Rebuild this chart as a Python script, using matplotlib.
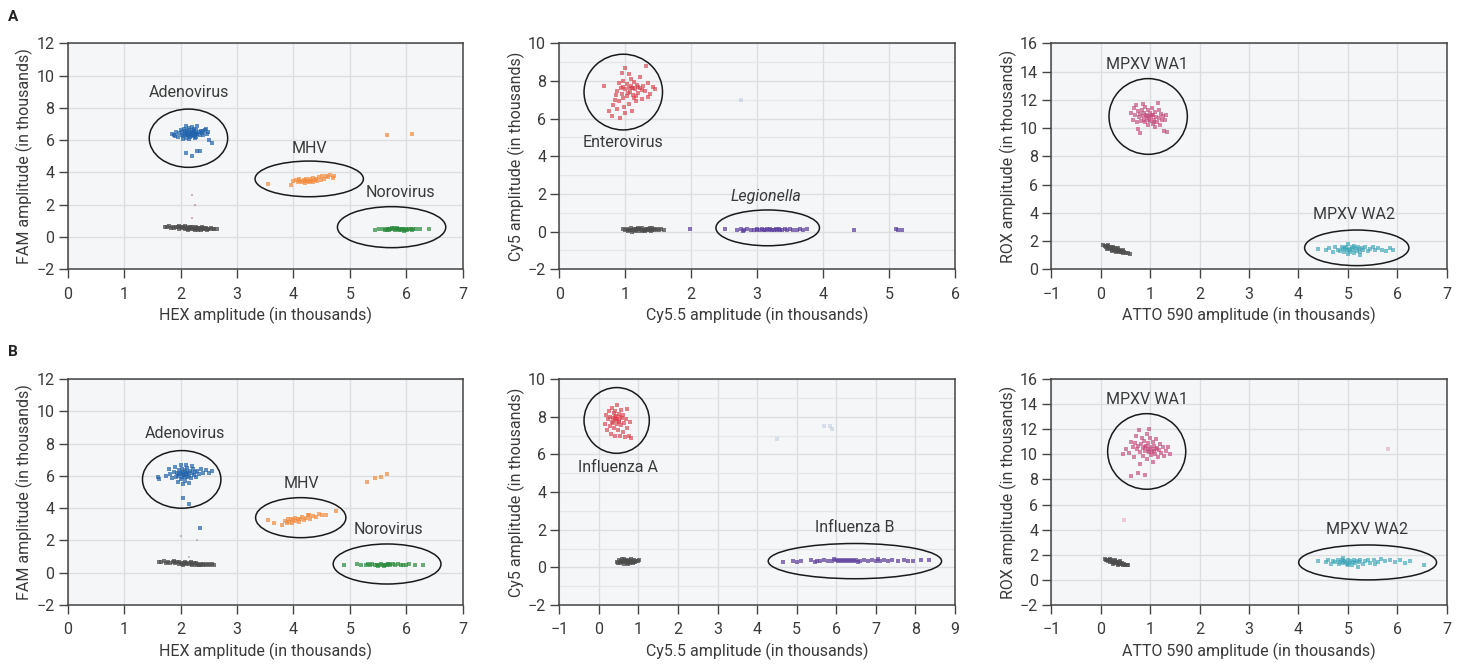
import numpy as np
import matplotlib
matplotlib.use("Agg")
import matplotlib.pyplot as plt
from matplotlib.patches import Ellipse
from matplotlib.ticker import MultipleLocator, FuncFormatter

plt.rcParams['font.family'] = ['Roboto', 'DejaVu Sans']

# ---------------- DATA (amplitudes in thousands) ----------------
# Row A, panel 1: HEX (x) vs FAM (y)
A1_adeno = [(1.88,6.35),(1.92,6.50),(1.95,6.20),(1.98,6.45),(2.00,6.60),(2.02,6.30),(2.03,6.50),(2.05,6.25),(2.06,6.70),(2.07,6.40),(2.08,6.55),(2.09,6.15),(2.10,6.45),(2.11,6.60),(2.12,6.30),(2.13,6.50),(2.14,6.35),(2.15,6.75),(2.16,6.20),(2.17,6.45),(2.18,6.60),(2.19,6.30),(2.20,6.50),(2.21,6.40),(2.22,6.25),(2.23,6.55),(2.24,6.70),(2.25,6.35),(2.26,6.45),(2.27,6.20),(2.28,6.60),(2.30,6.40),(2.32,6.50),(2.34,6.30),(2.36,6.55),(2.38,6.45),(2.40,6.35),(2.43,6.60),(2.46,6.40),(2.48,6.50),(2.05,6.10),(2.10,6.85),(2.15,6.05),(2.20,6.80),(2.25,6.15),(2.30,6.85),(2.12,6.40),(2.18,6.30),(2.22,6.50),(2.28,6.40),(2.10,5.20),(2.20,5.00),(2.30,5.35),(2.35,5.35),(2.55,5.85),(2.50,6.00),(1.85,6.40),(1.90,6.25),(2.45,6.70),(2.40,6.55)]
A1_mhv = [(3.55,3.30),(3.95,3.20),(4.00,3.45),(4.05,3.55),(4.08,3.40),(4.10,3.60),(4.12,3.50),(4.15,3.38),(4.18,3.55),(4.20,3.45),(4.22,3.62),(4.25,3.50),(4.28,3.40),(4.30,3.58),(4.32,3.48),(4.35,3.65),(4.38,3.52),(4.40,3.60),(4.42,3.45),(4.45,3.70),(4.48,3.55),(4.50,3.75),(4.55,3.62),(4.58,3.80),(4.62,3.70),(4.65,3.85),(4.70,3.65),(4.72,3.78),(4.20,3.35),(4.35,3.42),(5.65,6.30),(6.10,6.40)]
A1_noro = [(5.45,0.45),(5.52,0.48),(5.58,0.50),(5.62,0.46),(5.65,0.52),(5.68,0.48),(5.70,0.44),(5.72,0.50),(5.75,0.47),(5.78,0.53),(5.80,0.45),(5.82,0.50),(5.85,0.48),(5.88,0.52),(5.90,0.44),(5.92,0.49),(5.95,0.51),(5.98,0.46),(6.00,0.50),(6.02,0.43),(6.05,0.49),(6.08,0.52),(6.12,0.47),(6.18,0.50),(6.25,0.48),(6.40,0.50),(5.66,0.42),(5.84,0.55),(5.96,0.40),(6.10,0.45),(5.74,0.56),(5.88,0.46)]
A1_neg = [(1.72,0.63),(1.76,0.60),(1.80,0.66),(1.83,0.58),(1.86,0.62),(1.89,0.56),(1.92,0.64),(1.95,0.59),(1.97,0.52),(2.00,0.61),(2.02,0.55),(2.05,0.63),(2.07,0.50),(2.09,0.58),(2.11,0.53),(2.13,0.62),(2.15,0.48),(2.17,0.57),(2.19,0.52),(2.21,0.60),(2.23,0.47),(2.25,0.55),(2.27,0.51),(2.29,0.58),(2.31,0.46),(2.33,0.54),(2.35,0.50),(2.37,0.57),(2.39,0.47),(2.41,0.53),(2.43,0.49),(2.45,0.56),(2.47,0.46),(2.49,0.52),(2.51,0.48),(2.54,0.54),(2.57,0.47),(2.60,0.51),(2.64,0.49),(1.98,0.66),(2.08,0.66),(2.18,0.64),(2.28,0.62),(2.38,0.60),(2.14,0.44),(2.26,0.43),(2.36,0.44)]
A1_stray = [(2.20,2.60),(2.25,2.00),(2.20,1.15)]

# Row A, panel 2: Cy5.5 (x) vs Cy5 (y)
A2_entero = [(0.68,7.75),(0.75,6.40),(0.80,6.15),(0.85,7.00),(0.88,7.45),(0.90,6.95),(0.90,7.90),(0.92,6.05),(0.95,7.30),(0.95,8.40),(0.97,7.70),(0.98,6.60),(1.00,7.55),(1.00,8.70),(1.02,7.20),(1.03,7.85),(1.05,7.60),(1.06,6.80),(1.07,7.40),(1.08,8.10),(1.10,7.65),(1.10,6.40),(1.12,7.25),(1.13,7.95),(1.15,7.55),(1.16,6.95),(1.18,7.80),(1.20,7.35),(1.22,8.20),(1.23,7.60),(1.25,7.05),(1.27,7.75),(1.30,7.45),(1.32,8.80),(1.35,7.90),(1.38,7.30),(1.42,7.70),(1.45,7.55),(0.93,7.60),(0.97,7.10),(1.04,7.35),(1.08,7.75),(1.12,7.60),(1.17,7.20),(1.20,7.70),(0.86,7.25),(0.82,6.75),(1.00,6.30),(1.06,8.35),(0.96,8.00),(1.14,7.10),(1.26,7.50),(1.35,7.15),(0.88,6.50)]
A2_legio = [(2.52,0.12),(2.70,0.10),(2.75,0.12),(2.80,0.08),(2.85,0.13),(2.90,0.10),(2.95,0.07),(3.00,0.11),(3.05,0.09),(3.08,0.14),(3.10,0.10),(3.12,0.07),(3.15,0.12),(3.18,0.09),(3.20,0.13),(3.22,0.10),(3.25,0.08),(3.28,0.12),(3.30,0.10),(3.33,0.14),(3.35,0.09),(3.38,0.11),(3.42,0.13),(3.45,0.10),(3.50,0.12),(3.55,0.09),(3.60,0.11),(3.65,0.13),(3.70,0.10),(3.75,0.12),(2.78,0.04),(3.00,0.15),(1.98,0.12),(4.47,0.10),(5.10,0.12),(5.14,0.08),(5.20,0.10)]
A2_neg = [(0.96,0.12),(0.99,0.08),(1.02,0.15),(1.04,0.05),(1.07,0.11),(1.09,0.18),(1.11,0.07),(1.13,0.13),(1.15,0.03),(1.17,0.10),(1.19,0.16),(1.21,0.06),(1.23,0.12),(1.25,0.19),(1.27,0.04),(1.29,0.11),(1.31,0.15),(1.33,0.07),(1.35,0.12),(1.37,0.17),(1.39,0.05),(1.41,0.10),(1.43,0.14),(1.45,0.08),(1.48,0.12),(1.51,0.09),(1.54,0.13),(1.58,0.10),(1.10,0.00),(1.20,0.20),(1.30,0.01),(1.40,0.19),(1.16,0.14),(1.26,0.08),(1.36,0.09),(1.05,0.10)]
A2_faint = [(2.75,7.0)]

# Row A, panel 3: ATTO 590 (x) vs ROX (y)
A3_wa1 = [(0.62,11.10),(0.65,10.60),(0.68,11.40),(0.70,10.90),(0.72,11.60),(0.74,10.40),(0.75,11.20),(0.78,10.75),(0.80,11.00),(0.80,9.65),(0.82,10.50),(0.84,11.30),(0.85,10.85),(0.87,10.60),(0.88,11.10),(0.90,10.40),(0.90,11.50),(0.92,10.95),(0.94,10.70),(0.95,11.25),(0.96,10.20),(0.98,10.85),(1.00,11.05),(1.00,10.50),(1.02,10.75),(1.04,11.40),(1.05,10.30),(1.06,10.95),(1.08,10.60),(1.10,11.15),(1.10,10.10),(1.12,10.80),(1.14,10.45),(1.15,11.80),(1.17,10.70),(1.20,10.25),(1.22,11.00),(1.24,10.55),(1.26,10.85),(1.28,9.80),(1.30,10.60),(1.33,10.95),(1.35,9.70),(0.86,11.70),(0.97,10.60),(1.03,10.90),(0.93,10.85),(1.07,10.45),(0.76,9.95),(1.18,11.30)]
A3_wa2 = [(4.40,1.45),(4.55,1.35),(4.62,1.50),(4.70,1.25),(4.75,1.55),(4.80,1.40),(4.85,1.30),(4.88,1.60),(4.90,1.45),(4.93,1.20),(4.95,1.50),(4.98,1.35),(5.00,1.80),(5.02,1.40),(5.05,1.25),(5.08,1.55),(5.10,1.38),(5.12,1.15),(5.15,1.48),(5.18,1.30),(5.20,1.60),(5.22,1.42),(5.25,1.20),(5.28,1.50),(5.30,1.35),(5.35,1.55),(5.40,1.28),(5.45,1.45),(5.50,1.60),(5.55,1.35),(5.60,1.50),(5.70,1.40),(5.78,1.30),(5.85,1.50),(5.92,1.35),(5.00,1.05),(5.25,1.00),(4.97,1.60),(5.13,1.62),(5.05,1.45)]
A3_neg = [(0.05,1.70),(0.08,1.62),(0.10,1.55),(0.12,1.66),(0.14,1.50),(0.16,1.60),(0.18,1.45),(0.20,1.56),(0.22,1.40),(0.24,1.52),(0.26,1.36),(0.28,1.48),(0.30,1.32),(0.32,1.43),(0.34,1.28),(0.36,1.38),(0.38,1.25),(0.40,1.33),(0.42,1.20),(0.44,1.28),(0.46,1.17),(0.48,1.22),(0.52,1.14),(0.56,1.12),(0.60,1.05),(0.15,1.72),(0.25,1.60),(0.35,1.48),(0.45,1.36),(0.22,1.30),(0.30,1.22),(0.12,1.42)]

# Row B, panel 1: HEX (x) vs FAM (y)
B1_adeno = [(1.60,5.90),(1.62,5.80),(1.75,6.00),(1.80,6.40),(1.82,6.10),(1.85,5.85),(1.88,6.25),(1.90,6.55),(1.92,5.95),(1.94,6.20),(1.96,6.00),(1.98,6.35),(2.00,5.80),(2.00,6.15),(2.02,6.45),(2.03,5.95),(2.05,6.25),(2.06,6.05),(2.07,5.70),(2.08,6.35),(2.10,6.10),(2.11,5.90),(2.12,6.50),(2.14,6.20),(2.15,6.00),(2.17,6.30),(2.18,5.85),(2.20,6.15),(2.22,6.40),(2.24,6.05),(2.26,6.25),(2.28,5.95),(2.30,6.30),(2.33,6.10),(2.36,6.45),(2.40,6.20),(2.45,6.35),(2.50,6.15),(2.55,6.30),(1.95,5.60),(2.05,5.50),(2.15,5.55),(2.00,6.65),(2.10,6.70),(2.20,6.60),(2.05,4.60),(2.15,4.25),(2.35,2.75),(2.04,6.10),(2.08,5.95),(2.12,6.25),(1.98,6.10)]
B1_mhv = [(3.55,3.25),(3.65,3.05),(3.80,2.95),(3.85,3.20),(3.90,3.35),(3.92,3.15),(3.95,3.30),(3.98,3.10),(4.00,3.25),(4.02,3.40),(4.05,3.20),(4.08,3.35),(4.10,3.15),(4.12,3.30),(4.15,3.45),(4.18,3.25),(4.22,3.40),(4.25,3.55),(4.30,3.35),(4.35,3.50),(4.40,3.45),(4.45,3.65),(4.50,3.55),(4.58,3.60),(4.75,3.85),(3.88,3.05),(4.28,3.60),(5.30,5.60),(5.45,5.85),(5.55,5.95),(5.65,6.10)]
B1_noro = [(4.90,0.50),(5.12,0.55),(5.20,0.50),(5.28,0.46),(5.32,0.52),(5.36,0.48),(5.40,0.54),(5.44,0.45),(5.48,0.50),(5.52,0.47),(5.55,0.53),(5.58,0.45),(5.62,0.50),(5.65,0.48),(5.68,0.52),(5.72,0.46),(5.76,0.51),(5.80,0.48),(5.85,0.53),(5.90,0.45),(5.95,0.50),(6.00,0.48),(6.05,0.52),(6.15,0.47),(6.30,0.50),(5.50,0.42),(5.70,0.57),(5.60,0.40)]
B1_neg = [(1.62,0.68),(1.66,0.64),(1.70,0.70),(1.74,0.62),(1.78,0.67),(1.82,0.60),(1.86,0.66),(1.90,0.58),(1.94,0.64),(1.97,0.56),(2.00,0.62),(2.03,0.55),(2.06,0.61),(2.09,0.53),(2.12,0.60),(2.15,0.52),(2.18,0.59),(2.21,0.51),(2.24,0.58),(2.27,0.50),(2.30,0.57),(2.33,0.50),(2.36,0.56),(2.39,0.49),(2.42,0.55),(2.45,0.50),(2.48,0.54),(2.52,0.49),(2.56,0.53),(2.60,0.50),(1.88,0.70),(1.98,0.69),(2.08,0.67),(2.18,0.65),(2.28,0.63),(2.05,0.48),(2.20,0.46),(2.35,0.45)]
B1_stray = [(2.00,2.30),(2.30,2.05),(2.15,0.95)]

# Row B, panel 2: Cy5.5 (x) vs Cy5 (y)
B2_fluA = [(0.15,7.60),(0.18,8.10),(0.20,7.30),(0.22,7.85),(0.25,8.30),(0.27,7.50),(0.28,8.00),(0.30,7.10),(0.32,7.70),(0.34,8.45),(0.35,7.95),(0.37,7.40),(0.38,8.20),(0.40,7.80),(0.42,7.00),(0.43,8.05),(0.45,7.60),(0.46,8.60),(0.47,7.90),(0.48,7.30),(0.50,8.15),(0.52,7.75),(0.53,6.95),(0.55,8.35),(0.56,7.55),(0.58,7.95),(0.60,7.20),(0.62,8.10),(0.64,7.65),(0.65,6.90),(0.68,7.85),(0.70,8.40),(0.72,7.40),(0.75,7.00),(0.78,7.70),(0.80,6.85),(0.44,7.85),(0.40,8.00),(0.50,7.70),(0.36,7.65),(0.54,8.00),(0.42,8.30)]
B2_fluB = [(4.65,0.30),(4.90,0.32),(5.00,0.30),(5.10,0.35),(5.35,0.38),(5.45,0.28),(5.50,0.35),(5.60,0.33),(5.70,0.38),(5.80,0.35),(5.90,0.32),(6.00,0.38),(6.05,0.34),(6.10,0.40),(6.15,0.33),(6.20,0.37),(6.25,0.35),(6.30,0.39),(6.35,0.33),(6.40,0.37),(6.45,0.34),(6.50,0.38),(6.60,0.35),(6.70,0.37),(6.80,0.33),(6.90,0.38),(7.00,0.36),(7.10,0.34),(7.20,0.38),(7.30,0.35),(7.40,0.37),(7.55,0.34),(7.70,0.38),(7.80,0.35),(7.95,0.36),(8.15,0.38),(8.35,0.37),(5.95,0.45),(6.55,0.30),(7.05,0.42)]
B2_neg = [(0.45,0.30),(0.48,0.25),(0.50,0.38),(0.53,0.22),(0.55,0.33),(0.58,0.42),(0.60,0.27),(0.62,0.36),(0.64,0.20),(0.66,0.31),(0.68,0.40),(0.70,0.24),(0.72,0.34),(0.74,0.28),(0.76,0.39),(0.78,0.22),(0.80,0.32),(0.82,0.43),(0.84,0.26),(0.86,0.35),(0.88,0.30),(0.90,0.40),(0.92,0.27),(0.95,0.36),(0.98,0.31),(1.02,0.38),(0.57,0.30),(0.67,0.35),(0.77,0.30),(0.87,0.24),(0.63,0.45),(0.73,0.18)]
B2_faint = [(4.5,6.8),(5.7,7.5),(5.85,7.5),(5.9,7.35)]

# Row B, panel 3: ATTO 590 (x) vs ROX (y)
B3_wa1 = [(0.45,10.00),(0.52,10.40),(0.58,10.10),(0.62,11.00),(0.65,10.60),(0.68,9.80),(0.70,10.90),(0.72,11.50),(0.74,10.40),(0.76,10.70),(0.78,11.90),(0.80,10.20),(0.82,10.80),(0.84,11.30),(0.85,9.90),(0.86,10.50),(0.88,11.10),(0.90,10.30),(0.91,10.70),(0.93,9.60),(0.94,11.60),(0.95,10.45),(0.96,10.90),(0.98,10.15),(1.00,10.60),(1.00,11.30),(1.02,9.95),(1.04,10.40),(1.05,11.00),(1.07,10.25),(1.08,10.70),(1.10,10.05),(1.12,11.20),(1.14,10.50),(1.16,9.80),(1.18,10.35),(1.20,10.85),(1.22,10.10),(1.25,10.55),(1.28,9.90),(1.32,10.30),(1.36,10.60),(1.40,10.00),(0.62,8.30),(0.75,8.50),(0.90,8.35),(0.80,9.20),(1.05,9.40),(0.97,10.30),(1.03,10.20),(0.89,10.60),(1.11,10.45),(0.98,12.00)]
B3_wa2 = [(4.40,1.50),(4.55,1.40),(4.60,1.60),(4.65,1.30),(4.70,1.50),(4.75,1.40),(4.80,1.55),(4.82,1.25),(4.85,1.45),(4.88,1.60),(4.90,1.35),(4.92,1.50),(4.95,1.42),(4.98,1.28),(5.00,1.55),(5.02,1.38),(5.05,1.48),(5.08,1.20),(5.10,1.42),(5.12,1.60),(5.15,1.35),(5.18,1.50),(5.20,1.05),(5.22,1.40),(5.25,1.55),(5.30,1.30),(5.35,1.50),(5.40,1.62),(5.45,1.38),(5.52,1.55),(5.60,1.45),(5.68,1.70),(5.75,1.50),(5.85,1.60),(5.95,1.40),(6.05,1.55),(6.15,1.35),(6.25,1.50),(6.55,1.20),(5.00,1.20),(4.90,1.75),(5.55,1.30)]
B3_neg = [(0.08,1.65),(0.10,1.55),(0.12,1.62),(0.14,1.50),(0.16,1.60),(0.18,1.46),(0.20,1.56),(0.22,1.42),(0.24,1.52),(0.26,1.38),(0.28,1.48),(0.30,1.35),(0.32,1.44),(0.34,1.30),(0.36,1.40),(0.38,1.27),(0.40,1.36),(0.42,1.24),(0.44,1.32),(0.46,1.20),(0.48,1.28),(0.50,1.18),(0.53,1.22),(0.56,1.15),(0.18,1.70),(0.28,1.60),(0.38,1.50),(0.25,1.30),(0.35,1.20)]
B3_faint = [(0.48,4.8),(5.82,10.4)]

# Axis labels
XLABELS = ["HEX amplitude (in thousands)", "Cy5.5 amplitude (in thousands)", "ATTO 590 amplitude (in thousands)"]
YLABELS = ["FAM amplitude (in thousands)", "Cy5 amplitude (in thousands)", "ROX amplitude (in thousands)"]

# Colors
C_BLUE = "#2163ab"
C_ORANGE = "#f28b3c"
C_GREEN = "#2a8a3c"
C_GRAY = "#4d4d4d"
C_RED = "#d8404c"
C_PURPLE = "#5b3c9c"
C_PINK = "#c44b7d"
C_TEAL = "#3aa5b8"
TXT = "#3a3a3a"

fig = plt.figure(figsize=(14.61, 6.65), dpi=100)
W, H = 1461.0, 665.0

def make_ax(l, r, t, b):
    return fig.add_axes([l / W, (H - b) / H, (r - l) / W, (b - t) / H])

fmt = FuncFormatter(lambda v, p: f"{int(round(v))}".replace("-", "\u2212"))

def style(ax, xlim, ylim, xstep, ystep, xlabel, ylabel, yminor=None):
    ax.set_facecolor("#f5f6f7")
    ax.set_xlim(*xlim)
    ax.set_ylim(*ylim)
    ax.xaxis.set_major_locator(MultipleLocator(xstep))
    ax.yaxis.set_major_locator(MultipleLocator(ystep))
    if yminor:
        ax.yaxis.set_minor_locator(MultipleLocator(yminor))
        ax.grid(True, which="minor", axis="y", color="#e4e6e9", lw=0.9, zorder=0)
        ax.tick_params(which="minor", length=0)
    ax.grid(True, which="major", color="#dcdee2", lw=1.0, zorder=0)
    ax.set_axisbelow(True)
    for s in ax.spines.values():
        s.set_color("#444444")
        s.set_linewidth(1.1)
    ax.tick_params(which="major", direction="out", length=6.5, width=1.0, color="#444444",
                   labelsize=11.5, labelcolor=TXT)
    ax.tick_params(axis="x", pad=6)
    ax.tick_params(axis="y", pad=3)
    ax.xaxis.set_major_formatter(fmt)
    ax.yaxis.set_major_formatter(fmt)
    ax.set_xlabel(xlabel, fontsize=11.5, color=TXT, labelpad=4)
    ax.set_ylabel(ylabel, fontsize=11.5, color=TXT, labelpad=2)

def pts(ax, data, color, s=6, alpha=0.7):
    a = np.array(data)
    ax.scatter(a[:, 0], a[:, 1], s=s, c=color, marker="s", linewidths=0, alpha=alpha, zorder=3)

def ell(ax, cx, cy, w, h):
    ax.add_patch(Ellipse((cx, cy), w, h, fill=False, ec="#1a1a1a", lw=1.1, zorder=4))

def lab(ax, x, y, t, italic=False):
    ax.text(x, y, t, ha="center", va="center", fontsize=11.5, color=TXT,
            style="italic" if italic else "normal", zorder=5)

cols = [(67.7, 462.7), (559.3, 955.0), (1051.3, 1446.7)]
rowsA = (43.3, 269.3)
rowsB = (379.0, 605.0)

# ---------- Row A ----------
ax = make_ax(cols[0][0], cols[0][1], *rowsA)
style(ax, (0, 7), (-2, 12), 1, 2, XLABELS[0], YLABELS[0])
pts(ax, A1_neg, C_GRAY, s=9, alpha=0.75)
pts(ax, A1_stray, "#b07070", s=4, alpha=0.5)
pts(ax, A1_adeno, C_BLUE)
pts(ax, A1_mhv, C_ORANGE)
pts(ax, A1_noro, C_GREEN)
ell(ax, 2.14, 6.12, 1.39, 3.61); lab(ax, 2.14, 8.94, "Adenovirus")
ell(ax, 4.28, 3.60, 1.92, 2.21); lab(ax, 4.29, 5.50, "MHV")
ell(ax, 5.74, 0.61, 1.92, 2.54); lab(ax, 5.89, 2.74, "Norovirus")

ax = make_ax(cols[1][0], cols[1][1], *rowsA)
style(ax, (0, 6), (-2, 10), 1, 2, XLABELS[1], YLABELS[1], yminor=1)
pts(ax, A2_neg, C_GRAY, s=9, alpha=0.75)
pts(ax, A2_entero, C_RED, alpha=0.65)
pts(ax, A2_legio, C_PURPLE)
pts(ax, A2_faint, "#b9c8e0", alpha=0.5)
ell(ax, 0.97, 7.41, 1.19, 4.02); lab(ax, 0.97, 4.72, "Enterovirus")
ell(ax, 3.16, 0.20, 1.57, 1.90); lab(ax, 3.14, 1.85, "Legionella", italic=True)

ax = make_ax(cols[2][0], cols[2][1], *rowsA)
style(ax, (-1, 7), (0, 16), 1, 2, XLABELS[2], YLABELS[2])
pts(ax, A3_neg, C_GRAY, s=9, alpha=0.75)
pts(ax, A3_wa1, C_PINK, alpha=0.65)
pts(ax, A3_wa2, C_TEAL, alpha=0.65)
ell(ax, 0.96, 10.82, 1.585, 5.36); lab(ax, 0.93, 14.51, "MPXV WA1")
ell(ax, 5.18, 1.52, 2.11, 2.52); lab(ax, 5.13, 3.90, "MPXV WA2")

# ---------- Row B ----------
ax = make_ax(cols[0][0], cols[0][1], *rowsB)
style(ax, (0, 7), (-2, 12), 1, 2, XLABELS[0], YLABELS[0])
pts(ax, B1_neg, C_GRAY, s=9, alpha=0.75)
pts(ax, B1_stray, "#909090", s=4, alpha=0.5)
pts(ax, B1_adeno, C_BLUE)
pts(ax, B1_mhv, C_ORANGE)
pts(ax, B1_noro, C_GREEN)
ell(ax, 2.02, 5.78, 1.39, 3.57); lab(ax, 2.07, 8.61, "Adenovirus")
ell(ax, 4.13, 3.41, 1.60, 2.48); lab(ax, 4.15, 5.54, "MHV")
ell(ax, 5.66, 0.54, 1.91, 2.48); lab(ax, 5.68, 2.69, "Norovirus")

ax = make_ax(cols[1][0], cols[1][1], *rowsB)
style(ax, (-1, 9), (-2, 10), 1, 2, XLABELS[1], YLABELS[1], yminor=1)
pts(ax, B2_neg, C_GRAY, s=9, alpha=0.75)
pts(ax, B2_fluA, C_RED, alpha=0.65)
pts(ax, B2_fluB, C_PURPLE)
pts(ax, B2_faint, "#b9c8e0", alpha=0.5)
ell(ax, 0.45, 7.80, 1.65, 3.49); lab(ax, 0.49, 5.31, "Influenza A")
ell(ax, 6.47, 0.33, 4.38, 1.87); lab(ax, 6.46, 2.10, "Influenza B")

ax = make_ax(cols[2][0], cols[2][1], *rowsB)
style(ax, (-1, 7), (-2, 16), 1, 2, XLABELS[2], YLABELS[2])
pts(ax, B3_neg, C_GRAY, s=9, alpha=0.75)
pts(ax, B3_wa1, C_PINK, alpha=0.65)
pts(ax, B3_wa2, C_TEAL, alpha=0.65)
pts(ax, B3_faint, "#e0a8c0", alpha=0.6)
ell(ax, 0.93, 10.23, 1.58, 6.02); lab(ax, 0.93, 14.38, "MPXV WA1")
ell(ax, 5.40, 1.39, 2.79, 2.78); lab(ax, 5.38, 4.03, "MPXV WA2")

fig.text(8 / W, 1 - 17 / H, "A", fontsize=11, fontweight="bold", color="#222222", va="center", ha="left")
fig.text(8 / W, 1 - 352 / H, "B", fontsize=11, fontweight="bold", color="#222222", va="center", ha="left")

fig.savefig("out.png", dpi=100, facecolor="white")
